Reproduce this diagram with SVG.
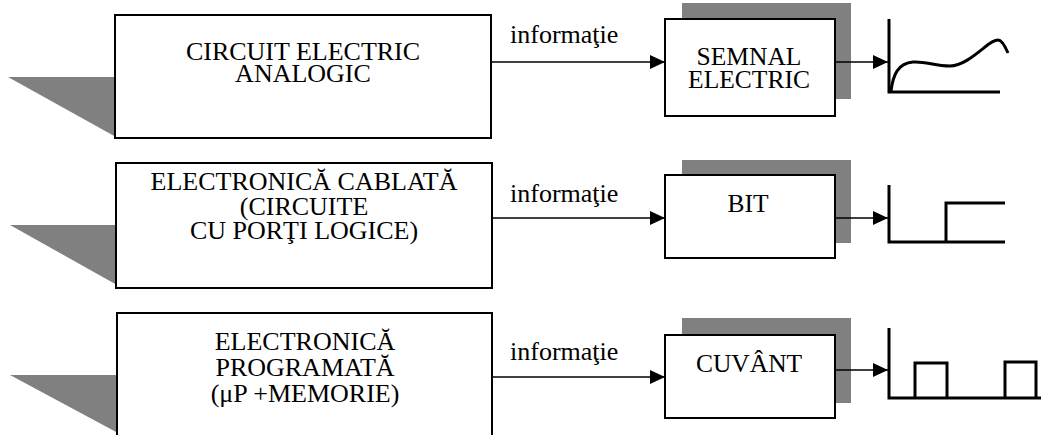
<svg xmlns="http://www.w3.org/2000/svg" width="1041" height="435" viewBox="0 0 1041 435">
<style>
.box{fill:#fff;stroke:#000;stroke-width:2}
.shadow{fill:#808080;stroke:none}
.t{font-family:"Liberation Serif","Times New Roman",serif;fill:#000;text-anchor:middle}
.lbl{font-family:"Liberation Serif","Times New Roman",serif;fill:#000;font-size:26px}
.conn{stroke:#000;stroke-width:1.5;fill:none}
.sig{stroke:#000;stroke-width:3;fill:none}
</style>
<defs>
<marker id="arr" viewBox="0 0 15 14" refX="15" refY="7" markerWidth="15" markerHeight="14" markerUnits="userSpaceOnUse" orient="auto">
<path d="M0,0 L15,7 L0,14 Z" fill="#000"/>
</marker>
</defs>
<rect width="1041" height="435" fill="#fff"/>

<g id="src1">
<polygon class="shadow" points="8,77 116,77 116,137"/>
<rect class="box" x="115" y="15" width="376" height="123"/>
<text class="t" font-size="26"><tspan x="303" y="60">CIRCUIT ELECTRIC</tspan><tspan x="303" y="82">ANALOGIC</tspan></text>
</g>
<g id="src2">
<polygon class="shadow" points="10,225 117,225 117,285"/>
<rect class="box" x="116" y="163" width="376" height="125"/>
<text class="t" font-size="26"><tspan x="304" y="190">ELECTRONICĂ CABLATĂ</tspan><tspan x="304" y="214.5">(CIRCUITE</tspan><tspan x="304" y="239">CU PORŢI LOGICE)</tspan></text>
</g>
<g id="src3">
<polygon class="shadow" points="10,375 118,375 118,433"/>
<rect class="box" x="117" y="313" width="375" height="130"/>
<text class="t" font-size="26"><tspan x="305" y="350">ELECTRONICĂ</tspan><tspan x="305" y="376">PROGRAMATĂ</tspan><tspan x="305" y="402">(μP +MEMORIE)</tspan></text>
</g>

<g id="out1">
<rect class="shadow" x="682" y="3" width="169" height="96"/>
<rect class="box" x="665" y="19" width="170" height="97"/>
<text class="t" font-size="25.5"><tspan x="749" y="65">SEMNAL</tspan><tspan x="749" y="88">ELECTRIC</tspan></text>
</g>
<g id="out2">
<rect class="shadow" x="682" y="160" width="169" height="83"/>
<rect class="box" x="665" y="175" width="170" height="83"/>
<text class="t" font-size="25.5" x="748" y="212">BIT</text>
</g>
<g id="out3">
<rect class="shadow" x="682" y="318" width="169" height="85"/>
<rect class="box" x="665" y="335" width="170" height="83"/>
<text class="t" font-size="25.5" x="749" y="372">CUVÂNT</text>
</g>

<g id="connectors">
<line class="conn" x1="491" y1="62" x2="665" y2="62" marker-end="url(#arr)"/>
<line class="conn" x1="835" y1="62" x2="888" y2="62" marker-end="url(#arr)"/>
<line class="conn" x1="492" y1="218" x2="665" y2="218" marker-end="url(#arr)"/>
<line class="conn" x1="835" y1="218" x2="888" y2="218" marker-end="url(#arr)"/>
<line class="conn" x1="492" y1="377" x2="665" y2="377" marker-end="url(#arr)"/>
<line class="conn" x1="835" y1="370" x2="888" y2="370" marker-end="url(#arr)"/>
<text class="lbl" x="510" y="43">informaţie</text>
<text class="lbl" x="510" y="202">informaţie</text>
<text class="lbl" x="510" y="360">informaţie</text>
</g>

<g id="signal1">
<path class="sig" d="M889,19 V92 H1000"/>
<path class="sig" d="M891,91 C893,75 898,63 913,62 C925,61 935,66 950,66 C962,66 975,55 985,47 C991,42 995,40 998,40 C1002,40 1005,46 1008,53"/>
</g>
<g id="signal2">
<path class="sig" d="M889,185 V242 H1005 M946,242 V203 H1005"/>
</g>
<g id="signal3">
<path class="sig" d="M889,328 V398 H1041 M915,398 V363 H947 V398 M1005,398 V362 H1036 V398"/>
</g>
</svg>
